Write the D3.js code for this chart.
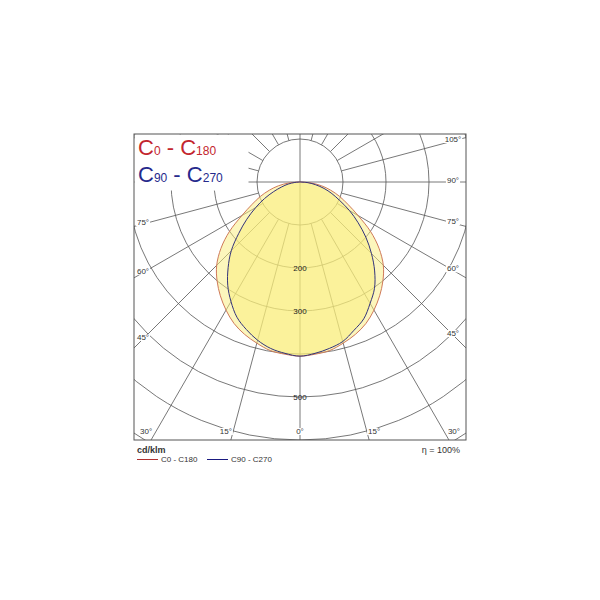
<!DOCTYPE html>
<html>
<head>
<meta charset="utf-8">
<script src="https://cdn.jsdelivr.net/npm/d3@7"></script>
<style>
html,body{margin:0;padding:0;background:#fff;}
text{font-family:"Liberation Sans",Arial,sans-serif;}
</style>
</head>
<body>
<svg id="chart" width="600" height="600"></svg>
<script>
// ---- data (cd/klm) ----
const gammas = [0,5,10,15,20,25,30,35,40,45,50,55,60,65,70,75,80,85,90];
const c0   = [405,402,398,388,377,363,344,323,300,274,240,200,156,123,98,74,51,26,0];
const c180 = [405,402,398,388,377,363,344,323,300,274,240,200,156,123,98,74,51,26,0];
const c90  = [405,400,393,384,367,351,326,302,270,235,200,165,133,102,79,58,37,19,0];
const c270 = [405,400,393,381,365,347,321,293,260,226,186,151,119,91,65,44,28,12,0];
const ringValues = [100,200,300,400,500,600,700,800];
const ringLabels = [200,300,500];
const radialAngles = d3.range(0,360,15);
const angleLabelsRight = [0,15,30,45,60,75,90,105];
const angleLabelsLeft = [15,30,45,60,75];
const legendTop = [["C","0"," - ","C","180"],["C","90"," - ","C","270"]];
const legendBottom = ["C0 - C180","C90 - C270"];
const unitLabel = "cd/klm";
const effLabel = "\u03B7 = 100%";

// ---- layout ----
const svg = d3.select("#chart");
const cx = 300, cy = 182;
const fx0 = 134, fx1 = 466, fy0 = 134, fy1 = 440;
const r = d3.scaleLinear().domain([0,100]).range([0,43]);
const redCol = "#c3262e", blueCol = "#262a8c";

svg.append("rect").attr("width",600).attr("height",600).attr("fill","#fff");
svg.append("clipPath").attr("id","frameClip").append("rect")
  .attr("x",fx0).attr("y",fy0).attr("width",fx1-fx0).attr("height",fy1-fy0);

const g = svg.append("g").attr("clip-path","url(#frameClip)");
const rad = d => d*Math.PI/180;

// rings
g.selectAll("circle.ring").data(ringValues).enter().append("circle")
  .attr("cx",cx).attr("cy",cy).attr("r",d=>r(d))
  .attr("fill","none").attr("stroke","#555").attr("stroke-width",0.8);

// radials
g.selectAll("line.radial").data(radialAngles).enter().append("line")
  .attr("x1",d=> cx + ((d%90===0)?0:r(100))*Math.sin(rad(d)))
  .attr("y1",d=> cy + ((d%90===0)?0:r(100))*Math.cos(rad(d)))
  .attr("x2",d=> cx + 600*Math.sin(rad(d)))
  .attr("y2",d=> cy + 600*Math.cos(rad(d)))
  .attr("stroke","#555").attr("stroke-width",0.8);

// curves
function curvePts(left,right){
  const pts = [];
  for(let i=gammas.length-1;i>=0;i--) pts.push([Math.PI + rad(gammas[i]), r(left[i])]);
  for(let i=1;i<gammas.length;i++) pts.push([Math.PI - rad(gammas[i]), r(right[i])]);
  return pts;
}
const lineR = d3.lineRadial().angle(d=>d[0]).radius(d=>d[1]).curve(d3.curveCatmullRomClosed);
const cg = g.append("g").attr("transform",`translate(${cx},${cy})`);
const redPts = curvePts(c180,c0), bluePts = curvePts(c270,c90);
cg.append("path").attr("d",lineR(redPts)).attr("fill","#f9ee7a").attr("fill-opacity",0.5);
cg.append("path").attr("d",lineR(bluePts)).attr("fill","#f9ee7a").attr("fill-opacity",0.5);
cg.append("path").attr("d",lineR(redPts)).attr("fill","none").attr("stroke","#cf7a5a").attr("stroke-width",1);
cg.append("path").attr("d",lineR(bluePts)).attr("fill","none").attr("stroke","#33337a").attr("stroke-width",1);

// ring labels
g.selectAll("text.rl").data(ringLabels).enter().append("text")
  .attr("x",cx).attr("y",d=>cy + r(d) + 3)
  .attr("text-anchor","middle").attr("font-size",8).attr("fill","#222").text(d=>d);

// angle labels
const lblG = svg.append("g");
function angleLabel(a,s){
  const sn = Math.sin(rad(a)), cs = Math.cos(rad(a));
  const tSide = sn>1e-6 ? (s>0?(fx1-cx):(cx-fx0))/sn : Infinity;
  const tBot = cs>1e-6 ? (fy1-cy)/cs : Infinity;
  let x,y;
  if(tBot < tSide){
    x = cx + s*tBot*sn + (a===0?0:s*5);
    y = fy1 - 6;
  } else {
    x = s>0 ? 453 : 143;
    const t = Math.abs(x-cx)/sn;
    y = cy + t*cs + 1;
  }
  const txt = lblG.append("text").attr("x",x).attr("y",y)
    .attr("text-anchor","middle").attr("font-size",8).attr("fill","#333").text(a+"\u00B0");
  const bb = txt.node().getBBox();
  lblG.insert("rect","text").attr("x",bb.x-1).attr("y",bb.y+1).attr("width",bb.width+2).attr("height",bb.height-2).attr("fill","#fff");
}
angleLabelsRight.forEach(a=>angleLabel(a,1));
angleLabelsLeft.forEach(a=>angleLabel(a,-1));

// legend box (top-left)
svg.append("rect").attr("x",fx0+0.5).attr("y",fy0+0.5).attr("width",248-fx0).attr("height",190-fy0).attr("fill","#fff");
legendTop.forEach((parts,i)=>{
  const t = svg.append("text").attr("x",138).attr("y",155 + i*27)
    .attr("fill", i===0?redCol:blueCol).style("white-space","pre");
  parts.forEach((p,j)=>{
    t.append("tspan").attr("font-size",(j===1||j===4)?12:22).text(p);
  });
});

// frame
svg.append("rect").attr("x",fx0).attr("y",fy0).attr("width",fx1-fx0).attr("height",fy1-fy0)
  .attr("fill","none").attr("stroke","#555").attr("stroke-width",1);

// bottom legend
svg.append("text").attr("x",137).attr("y",453).attr("font-size",9).attr("font-weight","bold").attr("fill","#333").text(unitLabel);
const legCols = ["#b03030","#1a1a80"];
const legX = [137,207];
legendBottom.forEach((l,i)=>{
  svg.append("line").attr("x1",legX[i]).attr("x2",legX[i]+21).attr("y1",459.5).attr("y2",459.5).attr("stroke",legCols[i]).attr("stroke-width",1);
  svg.append("text").attr("x",legX[i]+24).attr("y",462).attr("font-size",8).attr("fill","#333").text(l);
});
svg.append("text").attr("x",460).attr("y",453).attr("text-anchor","end").attr("font-size",9).attr("fill","#333").text(effLabel);
</script>
</body>
</html>
